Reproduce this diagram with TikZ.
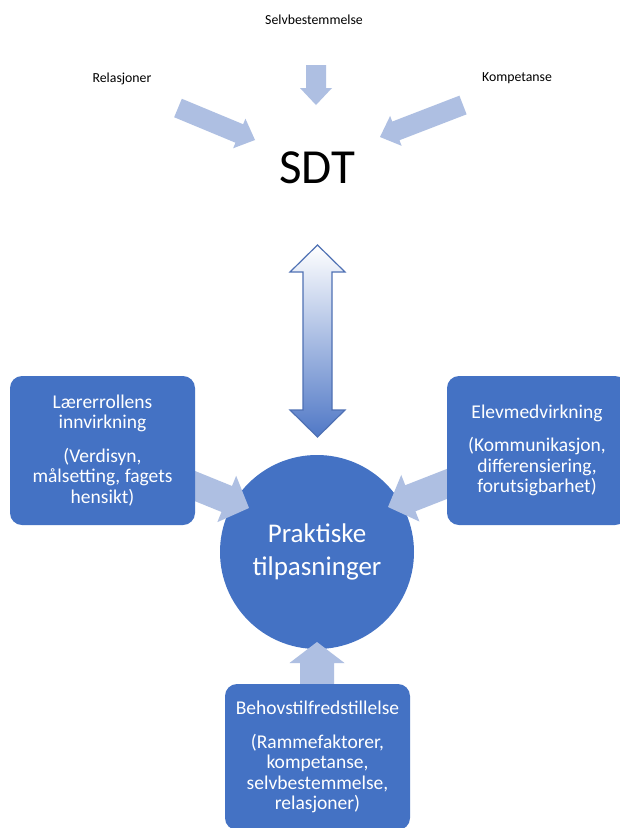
\documentclass[tikz,border=0pt]{standalone}
\usepackage{fontspec}
\setmainfont{Carlito}
\usetikzlibrary{calc}
\definecolor{boxblue}{RGB}{68,114,196}
\definecolor{arrowblue}{RGB}{174,191,226}
\definecolor{edgeblue}{RGB}{79,113,180}
\definecolor{shadeblue}{RGB}{80,120,198}

% block arrow: tail, tip, half shaft, half head, head length
\newcommand{\blockarrow}[5]{%
  \coordinate (hb) at ($(#2)!#5!(#1)$);
  \fill[arrowblue] ($(#1)!#3!90:(#2)$) -- ($(hb)!#3!90:(#2)$)
    -- ($(hb)!#4!90:(#2)$) -- (#2) -- ($(hb)!#4!-90:(#2)$)
    -- ($(hb)!#3!-90:(#2)$) -- ($(#1)!#3!-90:(#2)$) -- cycle;
}

\tikzset{
  toplabel/.style={font=\fontsize{13.8}{16}\selectfont, inner sep=0pt},
  boxnode/.style={fill=boxblue, rounded corners=12pt, text=white, align=center,
    font=\fontsize{19.5}{20.5}\selectfont, minimum width=185pt,
    minimum height=149pt, inner sep=0pt},
  hubnode/.style={circle, fill=boxblue, text=white, align=center,
    font=\fontsize{27}{33}\selectfont, minimum size=194pt, inner sep=0pt}
}

\begin{document}
\begin{tikzpicture}[x=1pt, y=-1pt]
  \useasboundingbox (0,0) rectangle (620,828);
  \fill[white] (0,0) rectangle (620,828);

  % Top labels
  \node[toplabel] (selv) at (314,20) {Selvbestemmelse};
  \node[toplabel] (rel) at (122,79) {Relasjoner};
  \node[toplabel] (komp) at (517,78) {Kompetanse};
  \node[font=\fontsize{49}{52}\selectfont, inner sep=0pt] (sdt) at (317,168) {SDT};

  % Arrows into SDT
  \coordinate (selvtail) at (316,65);  \coordinate (selvtip) at (316,105);
  \coordinate (reltail) at (178,108);  \coordinate (reltip) at (255,140);
  \coordinate (komptail) at (463,105); \coordinate (komptip) at (380,137);
  \foreach \a/\b in {selvtail/selvtip, reltail/reltip, komptail/komptip} {
    \blockarrow{\a}{\b}{10pt}{16pt}{17pt}
  }

  % Double arrow
  \shadedraw[top color=white, middle color=white, bottom color=shadeblue,
    draw=edgeblue, line width=1.2pt, line join=miter]
    (317.5,245) -- (345,272) -- (332,272) -- (332,410) -- (345,410)
    -- (317.5,437) -- (290,410) -- (303,410) -- (303,272) -- (290,272) -- cycle;

  % Hub
  \node[hubnode] (prak) at (317,552) {Praktiske\\tilpasninger};

  % Arrows into hub
  \coordinate (lrtail) at (185,482);  \coordinate (lrtip) at (249,508);
  \coordinate (elvtail) at (457,480); \coordinate (elvtip) at (388,507);
  \foreach \a/\b in {lrtail/lrtip, elvtail/elvtip} {
    \blockarrow{\a}{\b}{14pt}{25pt}{24pt}
  }
  \coordinate (behtail) at (317,695); \coordinate (behtip) at (317,642);
  \blockarrow{behtail}{behtip}{17pt}{27.5pt}{21pt}

  % Boxes
  \node[boxnode] (larer) at (102.5,450.5)
    {Lærerrollens\\innvirkning\\[13pt](Verdisyn,\\målsetting, fagets\\hensikt)};
  \node[boxnode, minimum width=180pt] (elev) at (537,450.5)
    {Elevmedvirkning\\[13pt](Kommunikasjon,\\differensiering,\\forutsigbarhet)};
  \node[boxnode, minimum height=146pt] (behov) at (317.5,757)
    {Behovstilfredstillelse\\[13pt](Rammefaktorer,\\kompetanse,\\selvbestemmelse,\\relasjoner)};
\end{tikzpicture}
\end{document}
